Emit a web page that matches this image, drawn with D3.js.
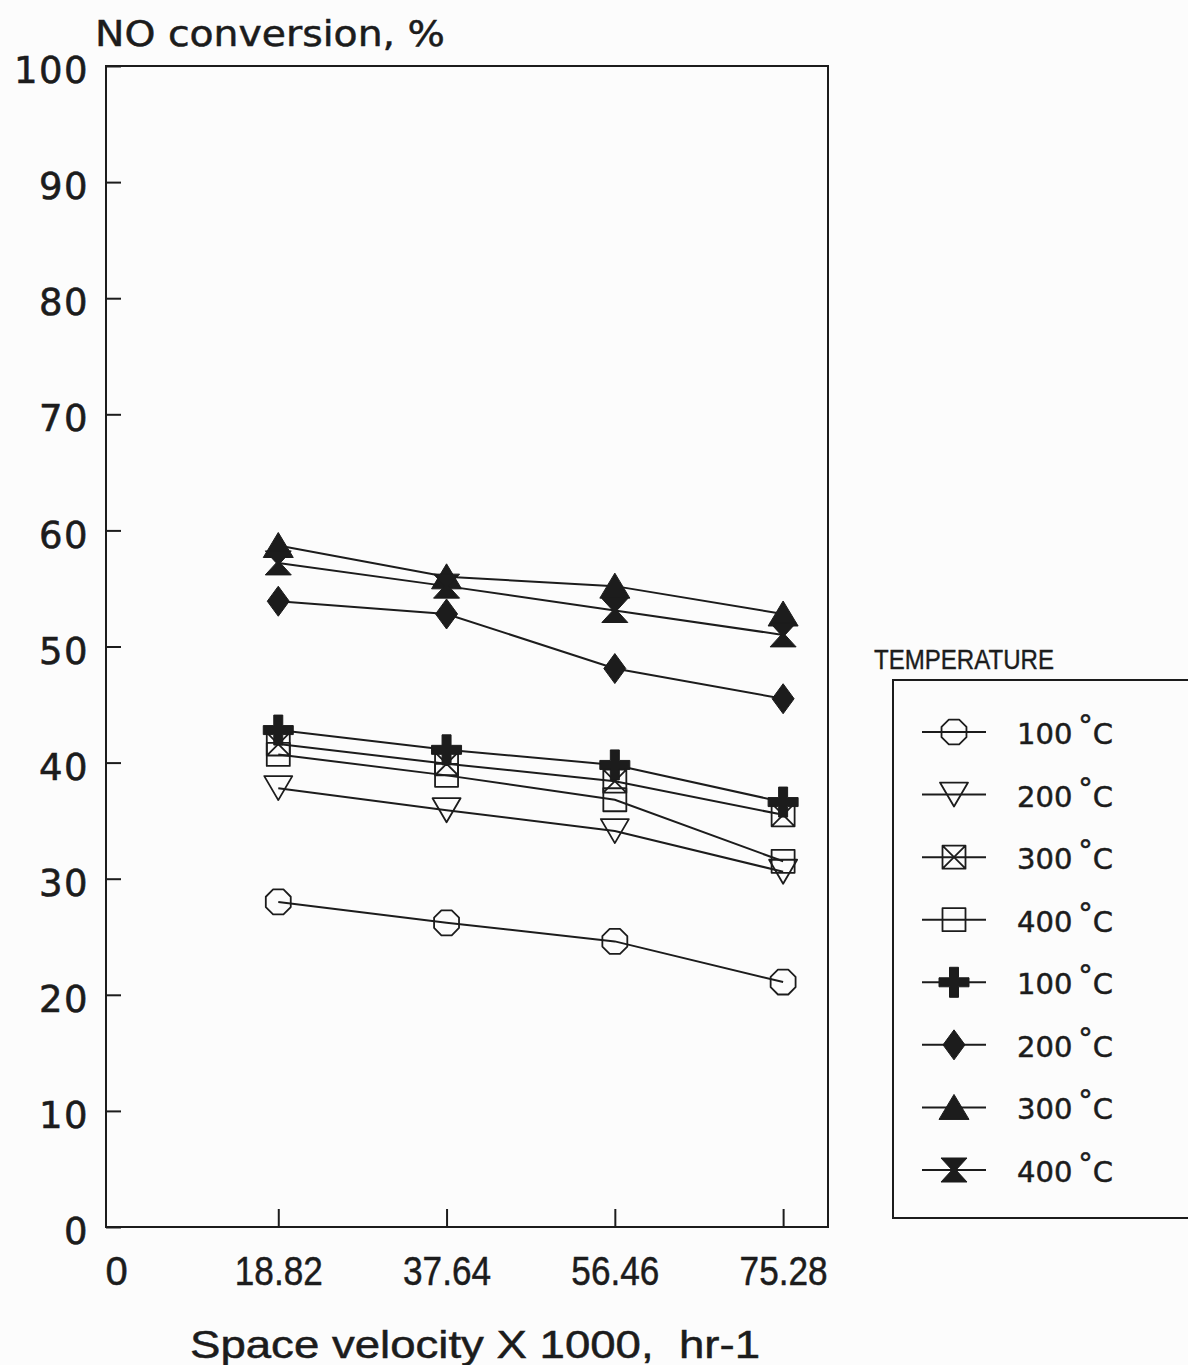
<!DOCTYPE html>
<html>
<head>
<meta charset="utf-8">
<script src="https://cdn.jsdelivr.net/npm/d3@7/dist/d3.min.js"></script>
<style>
  html, body { margin: 0; padding: 0; background: #fcfcfc; }
  svg { display: block; }
</style>
</head>
<body>
<svg id="chart" width="1188" height="1365"></svg>
<script>
// ---------- data ----------
const spaceVelocity = [18.82, 37.64, 56.46, 75.28];
const xTickValues = [0, 18.82, 37.64, 56.46, 75.28];
const yTickValues = [0, 10, 20, 30, 40, 50, 60, 70, 80, 90, 100];
const seriesLabels = ["100", "200", "300", "400", "100", "200", "300", "400"];
const seriesSymbols = ["octagon", "triDown", "crossSquare", "square", "plus", "diamond", "triUp", "hourglass"];
const open100 = [28.0, 26.2, 24.6, 21.1];
const open200 = [37.8, 35.9, 34.1, 30.6];
const open300 = [41.6, 39.9, 38.4, 35.5];
const open400 = [40.7, 38.9, 36.8, 31.5];
const filled100 = [42.8, 41.1, 39.8, 36.6];
const filled200 = [53.9, 52.8, 48.1, 45.5];
const filled300 = [58.7, 56.0, 55.2, 52.8];
const filled400 = [57.2, 55.2, 53.1, 51.0];
const seriesValues = [open100, open200, open300, open400, filled100, filled200, filled300, filled400];

// ---------- layout ----------
const ink = "#1c1c1c";
const svg = d3.select("#chart");
const L = 106, R = 828, T = 66, B = 1227;

const x = d3.scaleLinear().domain([0, 80.3]).range([L + 4, R]);
const y = d3.scaleLinear().domain([0, 100]).range([B, T]);

// frame
svg.append("rect")
  .attr("x", L).attr("y", T).attr("width", R - L).attr("height", B - T)
  .attr("fill", "none").attr("stroke", ink).attr("stroke-width", 2);

// y axis
const yAxis = svg.append("g").attr("transform", `translate(${L},0)`)
  .call(d3.axisLeft(y).tickValues(yTickValues).tickSize(-15).tickPadding(17).tickFormat(d3.format("d")));
yAxis.select(".domain").remove();
yAxis.selectAll(".tick line").attr("stroke", ink).attr("stroke-width", 2);
yAxis.selectAll(".tick text")
  .attr("fill", ink)
  .attr("stroke", ink).attr("stroke-width", 0.6)
  .attr("font-family", "DejaVu Sans")
  .attr("font-size", 37)
  .attr("letter-spacing", "1.5px")
  .attr("dy", "0.45em");

// x axis
const xAxis = svg.append("g").attr("transform", `translate(0,${B})`)
  .call(d3.axisBottom(x).tickValues(xTickValues).tickSize(-18).tickPadding(30)
    .tickFormat(d => d === 0 ? "0" : d.toFixed(2)));
xAxis.select(".domain").remove();
xAxis.selectAll(".tick line").attr("stroke", ink).attr("stroke-width", 2)
  .attr("display", d => d === 0 ? "none" : null);
xAxis.selectAll(".tick text")
  .attr("fill", ink)
  .attr("stroke", ink).attr("stroke-width", 0.5)
  .attr("font-family", "Liberation Sans")
  .attr("font-size", 40)
  .attr("textLength", d => d === 0 ? null : 88)
  .attr("lengthAdjust", "spacingAndGlyphs")
  .attr("transform", d => d === 0 ? "translate(6,0)" : null);

// axis titles
svg.append("text")
  .attr("x", 95).attr("y", 46)
  .attr("font-family", "DejaVu Sans").attr("font-size", 35)
  .attr("fill", ink).attr("stroke", ink).attr("stroke-width", 0.5)
  .attr("textLength", 350).attr("lengthAdjust", "spacingAndGlyphs")
  .text("NO conversion, %");

svg.append("text")
  .attr("x", 190).attr("y", 1358)
  .attr("font-family", "Liberation Sans").attr("font-size", 38)
  .attr("fill", ink).attr("stroke", ink).attr("stroke-width", 0.5)
  .attr("textLength", 570).attr("lengthAdjust", "spacingAndGlyphs")
  .style("white-space", "pre")
  .text("Space velocity X 1000,  hr-1");

// ---------- symbols ----------
function symbolPath(kind) {
  switch (kind) {
    case "octagon": {
      const r = 13.5;
      const pts = d3.range(8).map(i => {
        const a = Math.PI / 8 + i * Math.PI / 4;
        return [r * Math.cos(a), r * Math.sin(a)];
      });
      return "M" + pts.map(p => p.join(",")).join("L") + "Z";
    }
    case "triDown": return "M-14,-12L14,-12L0,12Z";
    case "square": return "M-11.5,-11.5H11.5V11.5H-11.5Z";
    case "crossSquare": return "M-11.5,-11.5H11.5V11.5H-11.5ZM-11.5,-11.5L11.5,11.5M11.5,-11.5L-11.5,11.5";
    case "plus": return "M-4.5,-15H4.5V-4.5H15V4.5H4.5V15H-4.5V4.5H-15V-4.5H-4.5Z";
    case "diamond": return "M0,-15L11,0L0,15L-11,0Z";
    case "triUp": return "M0,-13L15,12L-15,12Z";
    case "hourglass": return "M-13,-12L13,-12L2,0L13,12L-13,12L-2,0Z";
  }
}
const isFilled = k => ["plus", "diamond", "triUp", "hourglass"].includes(k);

function drawSymbol(g, kind) {
  g.append("path")
    .attr("d", symbolPath(kind))
    .attr("fill", isFilled(kind) ? ink : "none")
    .attr("stroke", ink)
    .attr("stroke-width", isFilled(kind) ? 1 : 1.8)
    .attr("stroke-linejoin", "round");
}

// ---------- series ----------
const line = d3.line().x((d, i) => x(spaceVelocity[i])).y(d => y(d));
const plot = svg.append("g");

seriesValues.forEach((vals, s) => {
  plot.append("path")
    .attr("d", line(vals))
    .attr("fill", "none").attr("stroke", ink).attr("stroke-width", 2);
});
seriesValues.forEach((vals, s) => {
  vals.forEach((v, i) => {
    const g = plot.append("g").attr("transform", `translate(${x(spaceVelocity[i])},${y(v)})`);
    drawSymbol(g, seriesSymbols[s]);
  });
});

// ---------- legend ----------
svg.append("text")
  .attr("x", 874).attr("y", 669)
  .attr("font-family", "Liberation Sans").attr("font-size", 27)
  .attr("fill", ink).attr("stroke", ink).attr("stroke-width", 0.4)
  .attr("textLength", 180).attr("lengthAdjust", "spacingAndGlyphs")
  .text("TEMPERATURE");

svg.append("rect")
  .attr("x", 893).attr("y", 680).attr("width", 320).attr("height", 538)
  .attr("fill", "none").attr("stroke", ink).attr("stroke-width", 2);

const legendY = d3.scaleLinear().domain([0, 7]).range([732, 1170]);
seriesLabels.forEach((lab, i) => {
  const cy = legendY(i);
  const g = svg.append("g").attr("transform", `translate(0,${cy})`);
  g.append("line").attr("x1", 922).attr("x2", 986).attr("y1", 0).attr("y2", 0)
    .attr("stroke", ink).attr("stroke-width", 2);
  const sg = g.append("g").attr("transform", "translate(954,0)");
  drawSymbol(sg, seriesSymbols[i]);
  const t = g.append("text")
    .attr("x", 1017).attr("y", 12)
    .attr("font-family", "DejaVu Sans").attr("font-size", 29)
    .attr("fill", ink).attr("stroke", ink).attr("stroke-width", 0.5);
  t.append("tspan").text(lab);
  t.append("tspan").attr("dx", 6).attr("dy", -9).text("°");
  t.append("tspan").attr("dx", 0).attr("dy", 9).text("C");
});
</script>
</body>
</html>
